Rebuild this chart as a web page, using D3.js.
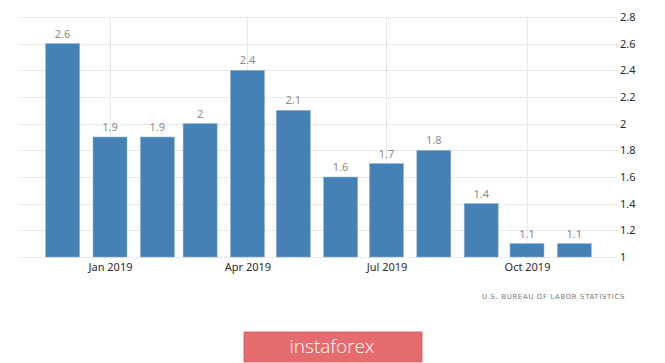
<!DOCTYPE html>
<html>
<head>
<meta charset="utf-8">
<script src="https://cdn.jsdelivr.net/npm/d3@7"></script>
<style>
  body { margin: 0; background: #fff; }
  svg { display: block; }
</style>
</head>
<body>
<svg width="665" height="363"></svg>
<script>
// Monthly values, Dec 2018 - Nov 2019
const months = ["2018-12", "2019-01", "2019-02", "2019-03", "2019-04", "2019-05",
                "2019-06", "2019-07", "2019-08", "2019-09", "2019-10", "2019-11"];
const values = [2.6, 1.9, 1.9, 2, 2.4, 2.1, 1.6, 1.7, 1.8, 1.4, 1.1, 1.1];
const yTicks = [1, 1.2, 1.4, 1.6, 1.8, 2, 2.2, 2.4, 2.6, 2.8];
const xTickLabels = ["2019-01", "2019-04", "2019-07", "2019-10"];

let parseMonth = d3.timeParse("%Y-%m");
let data = months.map((m, i) => ({ date: parseMonth(m), value: values[i] }));

let svg = d3.select("svg");
let plotLeft = 20, plotRight = 617, plotTop = 17, plotBottom = 257;

// x: time scale, bars centred on the first of each month
let x = d3.scaleTime()
    .domain([parseMonth("2019-01"), parseMonth("2019-10")])
    .range([110, 527]);
let y = d3.scaleLinear().domain([1, 2.8]).range([plotBottom, plotTop]);
let barWidth = 34;

// horizontal grid lines
svg.append("g")
    .selectAll("line")
    .data(yTicks)
    .enter().append("line")
    .attr("x1", plotLeft).attr("x2", plotRight)
    .attr("y1", d => Math.round(y(d)) + 0.5)
    .attr("y2", d => Math.round(y(d)) + 0.5)
    .attr("stroke", "#d6d6d6")
    .attr("stroke-dasharray", "1,1");

// vertical grid lines at quarter ticks
svg.append("g")
    .selectAll("line")
    .data(xTickLabels.map(parseMonth))
    .enter().append("line")
    .attr("x1", d => Math.round(x(d)) + 0.5)
    .attr("x2", d => Math.round(x(d)) + 0.5)
    .attr("y1", plotTop).attr("y2", plotBottom + 4)
    .attr("stroke", "#d6d6d6")
    .attr("stroke-dasharray", "1,1");

// y axis labels on the right
let yAxis = svg.append("g")
    .attr("transform", "translate(" + plotRight + ",0)")
    .call(d3.axisRight(y).tickValues(yTicks).tickSize(0).tickPadding(3)
        .tickFormat(d3.format("~g")));
yAxis.select(".domain").remove();
yAxis.selectAll("text")
    .attr("fill", "#2b2b2b")
    .style("font-family", "'Noto Sans', sans-serif")
    .style("font-size", "11px");

// x axis labels
let xAxis = svg.append("g")
    .attr("transform", "translate(0," + plotBottom + ")")
    .call(d3.axisBottom(x).tickValues(xTickLabels.map(parseMonth)).tickSize(0).tickPadding(6)
        .tickFormat(d3.timeFormat("%b %Y")));
xAxis.select(".domain").remove();
xAxis.selectAll("text")
    .attr("fill", "#2b2b2b")
    .style("font-family", "'Noto Sans', sans-serif")
    .style("font-size", "11px");

// bars
svg.append("g")
    .selectAll("rect")
    .data(data)
    .enter().append("rect")
    .attr("x", d => x(d.date) - barWidth / 2)
    .attr("y", d => y(d.value))
    .attr("width", barWidth)
    .attr("height", d => y(1) - y(d.value))
    .attr("fill", "#4581b4")
    .attr("stroke", "#8fb2d2")
    .attr("stroke-width", 0.6);

// value labels
svg.append("g")
    .selectAll("text")
    .data(data)
    .enter().append("text")
    .attr("x", d => x(d.date))
    .attr("y", d => y(d.value) - 6)
    .attr("text-anchor", "middle")
    .attr("fill", "#8c8c8c")
    .style("font-family", "'Noto Sans', sans-serif")
    .style("font-size", "11px")
    .text(d => d3.format("~g")(d.value));

// source note
svg.append("text")
    .attr("x", 625).attr("y", 299)
    .attr("text-anchor", "end")
    .attr("fill", "#7a7a7a")
    .style("font-family", "'DejaVu Sans', sans-serif")
    .style("font-size", "7px")
    .style("letter-spacing", "0.6px")
    .text("U.S.  BUREAU  OF  LABOR  STATISTICS");

// watermark
svg.append("rect")
    .attr("x", 244).attr("y", 332)
    .attr("width", 178).attr("height", 30)
    .attr("fill", "#e46c6e")
    .attr("stroke", "#d05a5c")
    .attr("stroke-width", 0.8);
svg.append("text")
    .attr("x", 332).attr("y", 353)
    .attr("text-anchor", "middle")
    .attr("fill", "#fff")
    .style("font-family", "'Open Sans', sans-serif")
    .style("font-weight", 300)
    .style("font-size", "19px")
    .text("instaforex");
</script>
</body>
</html>
